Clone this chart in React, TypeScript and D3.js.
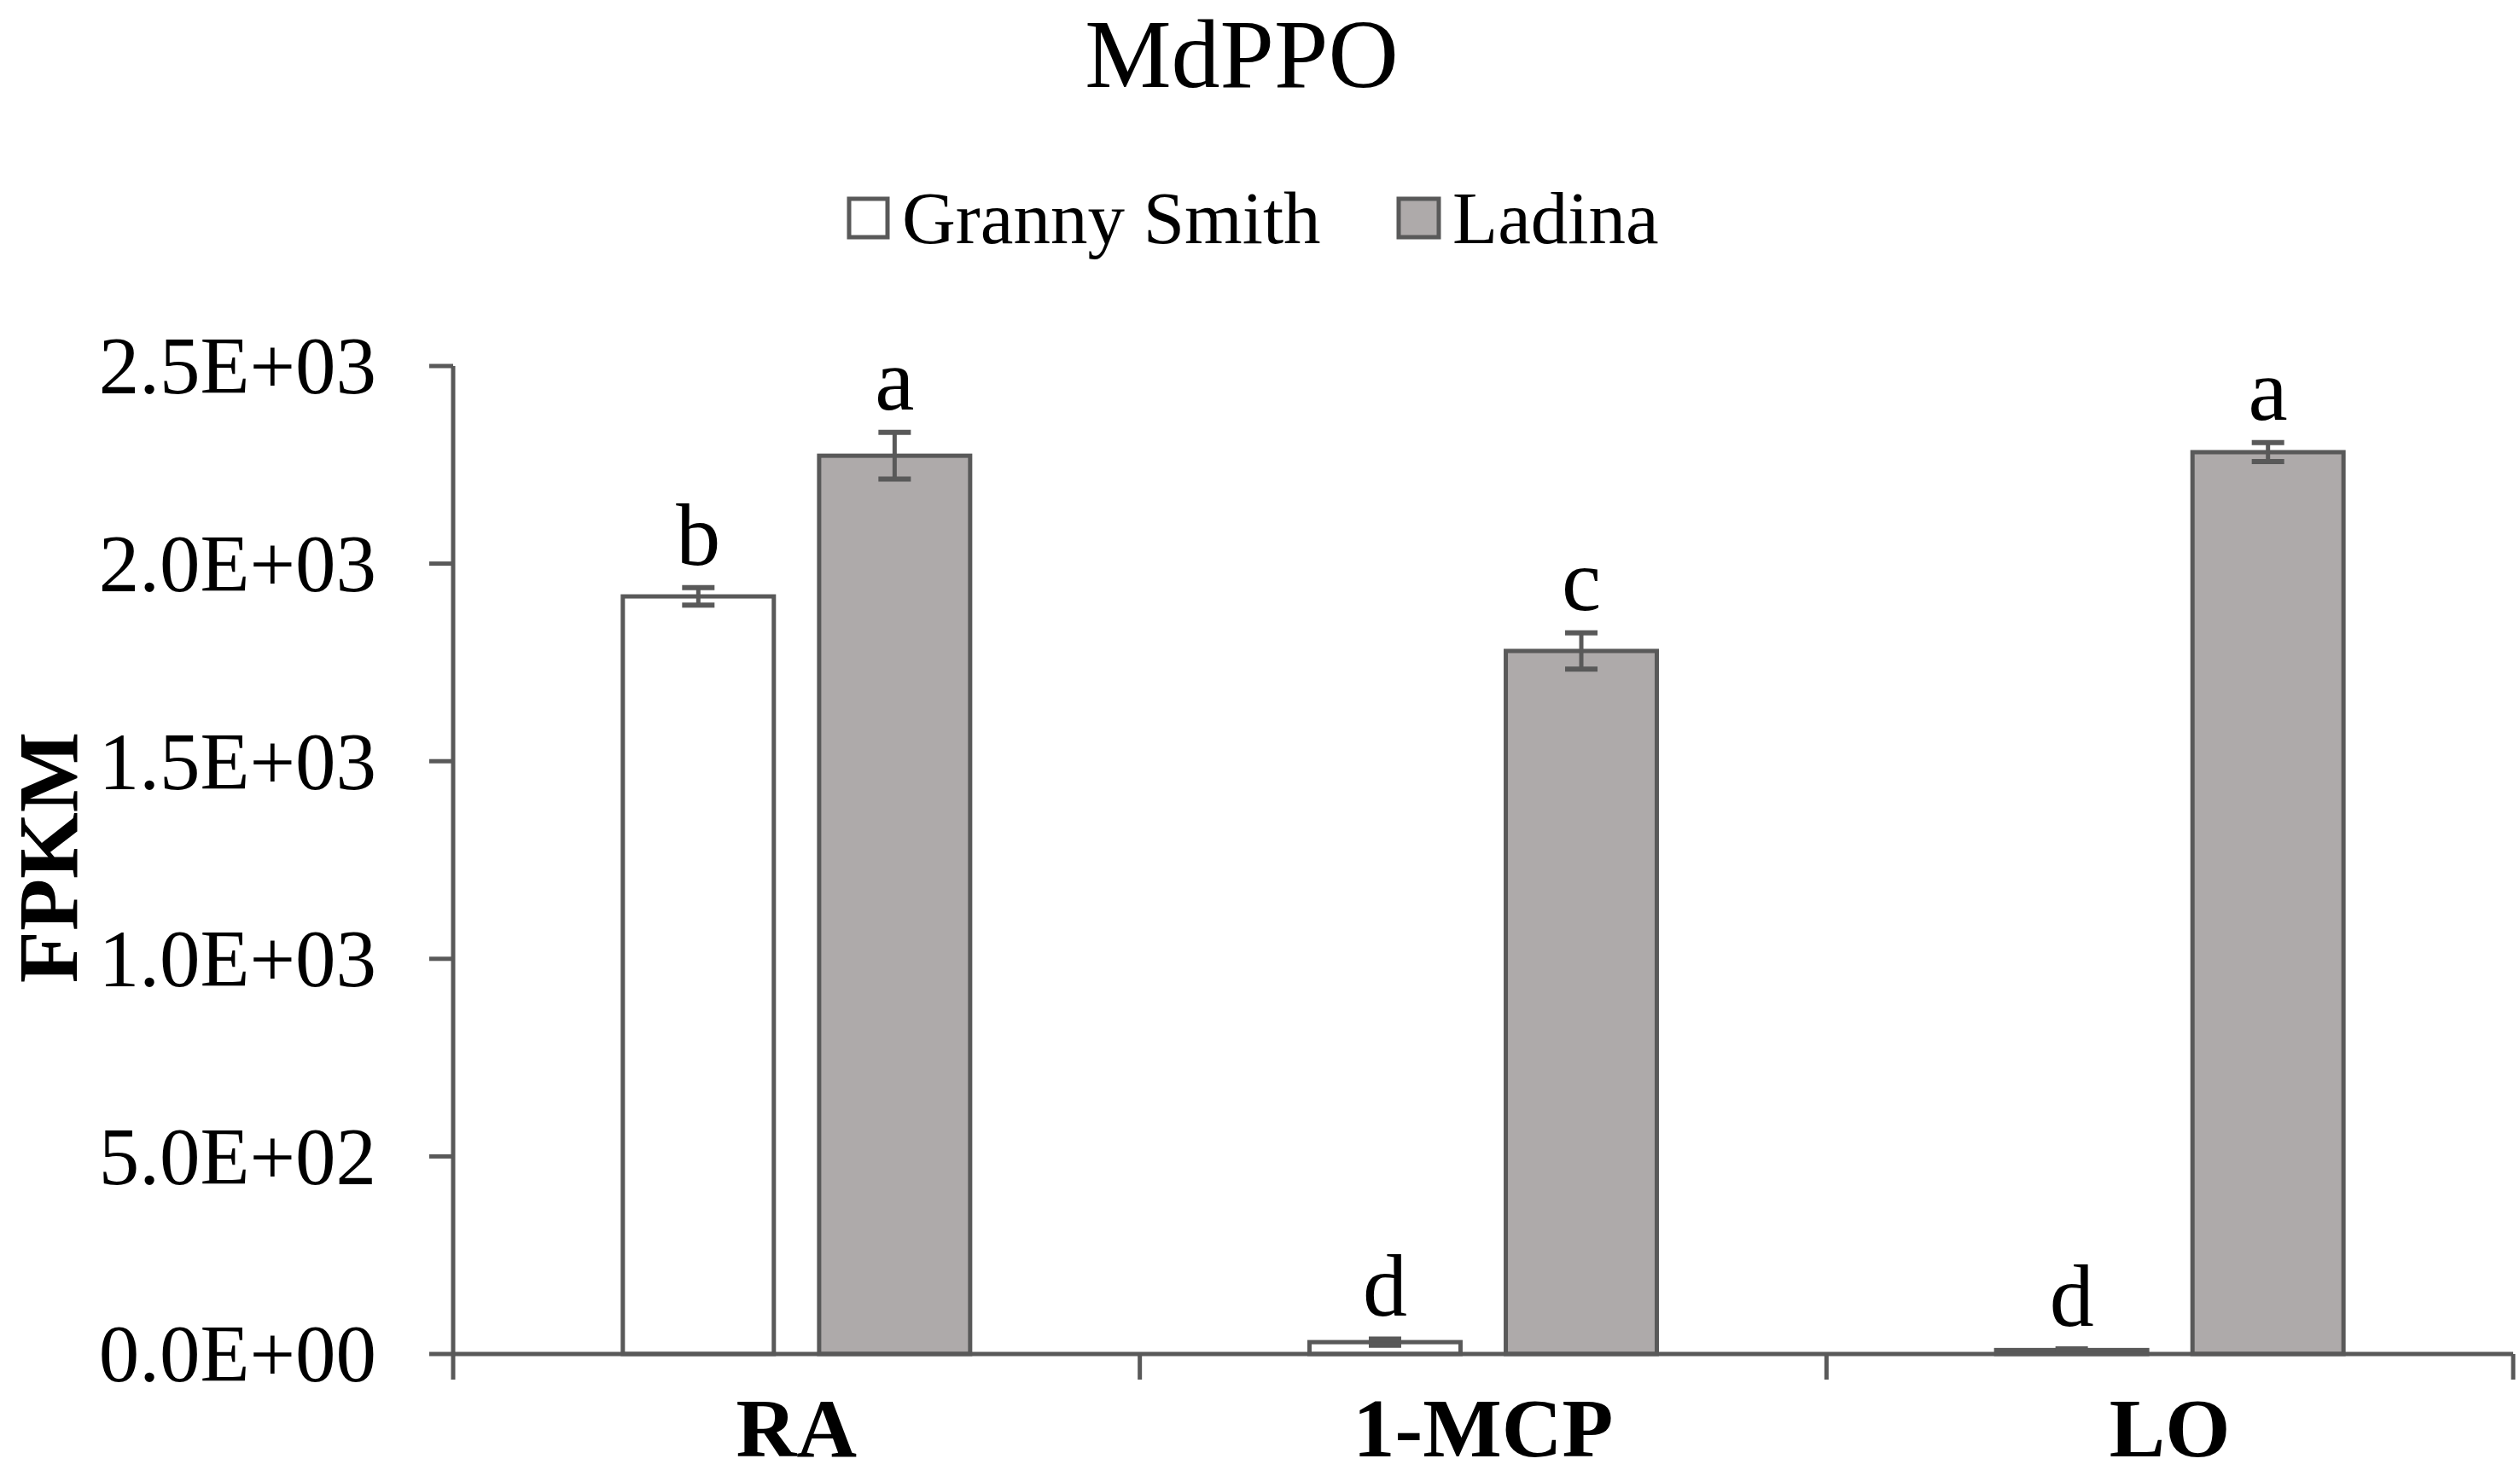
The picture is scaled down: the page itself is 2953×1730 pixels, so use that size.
import * as d3 from "d3";

const categories = ["RA", "1-MCP", "LO"];
const series = ["Granny Smith", "Ladina"];
const grannySmith = [1917, 30, 10];
const grannySmithErr = [22, 8, 3];
const ladina = [2273, 1779, 2282];
const ladinaErr = [59, 46, 24];
const grannyLetters = ["b", "d", "d"];
const ladinaLetters = ["a", "c", "a"];
const yTicks = [0, 500, 1000, 1500, 2000, 2500];
const yTickLabels = ["0.0E+00", "5.0E+02", "1.0E+03", "1.5E+03", "2.0E+03", "2.5E+03"];

const W = 2953;
const H = 1730;
const FONT = "'Liberation Serif', 'Times New Roman', serif";
const STROKE = "#595959";
const FILLS = ["#ffffff", "#aeaaaa"];

export default function App() {
  const x0 = d3.scaleBand().domain(categories).range([531, 2945]).padding(0);
  const bw = x0.bandwidth();
  const x1 = d3
    .scaleBand()
    .domain(series)
    .range([bw / 2 - 206, bw / 2 + 206])
    .paddingInner(0.209)
    .paddingOuter(0);
  const y = d3.scaleLinear().domain([0, 2500]).range([1587, 429]);

  const values = [grannySmith, ladina];
  const errs = [grannySmithErr, ladinaErr];
  const letters = [grannyLetters, ladinaLetters];

  return (
    <svg
      width={W}
      height={H}
      style={{ position: "absolute", left: 0, top: 0, background: "#fff" }}
      fontFamily={FONT}
    >
      <rect width={W} height={H} fill="#fff" />
      <text x={1455} y={102} fontSize={114} textAnchor="middle">
        MdPPO
      </text>

      {/* legend */}
      <g>
        <rect x={995} y={233} width={45} height={45} fill={FILLS[0]} stroke={STROKE} strokeWidth={5} />
        <text x={1057} y={285} fontSize={87}>
          {series[0]}
        </text>
        <rect x={1639} y={233} width={47} height={45} fill={FILLS[1]} stroke={STROKE} strokeWidth={5} />
        <text x={1702} y={285} fontSize={87}>
          {series[1]}
        </text>
      </g>

      {/* y axis */}
      <line x1={531} x2={531} y1={y(2500)} y2={y(0) + 30} stroke={STROKE} strokeWidth={5} />
      {yTicks.map((t, i) => (
        <g key={t}>
          <line x1={503} x2={531} y1={y(t)} y2={y(t)} stroke={STROKE} strokeWidth={5} />
          <text x={441} y={y(t)} dy="0.34em" fontSize={95} textAnchor="end">
            {yTickLabels[i]}
          </text>
        </g>
      ))}
      <text
        transform={`translate(90, 1005) rotate(-90)`}
        fontSize={100}
        fontWeight="bold"
        textAnchor="middle"
      >
        FPKM
      </text>

      {/* bars */}
      {categories.map((c, ci) => (
        <g key={c} transform={`translate(${x0(c)},0)`}>
          {series.map((s, si) => {
            const v = values[si][ci];
            const e = errs[si][ci];
            const bx = x1(s)!;
            const cx = bx + x1.bandwidth() / 2;
            return (
              <g key={s}>
                <rect
                  x={bx + 2.5}
                  y={y(v)}
                  width={x1.bandwidth() - 5}
                  height={y(0) - y(v)}
                  fill={FILLS[si]}
                  stroke={STROKE}
                  strokeWidth={5}
                />
                <line x1={cx} x2={cx} y1={y(v + e)} y2={y(v - e)} stroke={STROKE} strokeWidth={5} />
                <line x1={cx - 19} x2={cx + 19} y1={y(v + e)} y2={y(v + e)} stroke={STROKE} strokeWidth={6} />
                <line x1={cx - 19} x2={cx + 19} y1={y(v - e)} y2={y(v - e)} stroke={STROKE} strokeWidth={6} />
                <text x={cx} y={y(v + e) - 27} fontSize={104} textAnchor="middle">
                  {letters[si][ci]}
                </text>
              </g>
            );
          })}
        </g>
      ))}

      {/* x axis */}
      <line x1={531} x2={2945} y1={y(0)} y2={y(0)} stroke={STROKE} strokeWidth={5} />
      {categories.map((c) => (
        <line
          key={c}
          x1={x0(c)! + bw}
          x2={x0(c)! + bw}
          y1={y(0)}
          y2={y(0) + 30}
          stroke={STROKE}
          strokeWidth={5}
        />
      ))}
      {categories.map((c) => (
        <text
          key={c}
          x={x0(c)! + bw / 2}
          y={1707}
          fontSize={98}
          fontWeight="bold"
          textAnchor="middle"
        >
          {c}
        </text>
      ))}
    </svg>
  );
}
